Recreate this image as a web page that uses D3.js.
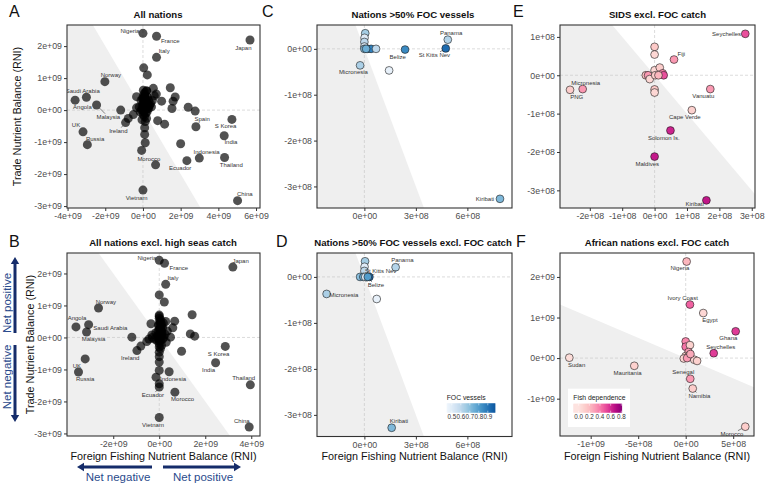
<!DOCTYPE html>
<html><head><meta charset="utf-8">
<script src="https://cdn.jsdelivr.net/npm/d3@7"></script>
<style>body{margin:0;background:#fff;} svg{display:block;font-family:"Liberation Sans",Arial,sans-serif;}</style>
</head><body><svg id="c" width="766" height="483"></svg>
<script>
// ---------------- DATA ----------------
// Panel A: All nations  [name, foreign fishing RNI, trade RNI]
const aLabeled = [
  ["Nigeria",0,2.4e9],["France",0.72e9,2.31e9],["Japan",5.68e9,2.19e9],["Italy",0.72e9,1.65e9],
  ["Norway",-2.02e9,0.89e9],["Saudi Arabia",-3.0e9,0.40e9],["Angola",-3.6e9,0.31e9],["Malaysia",-2.46e9,0.16e9],
  ["UK",-3.18e9,-0.68e9],["Russia",-2.95e9,-1.08e9],["Ireland",-0.92e9,-0.39e9],["Spain",2.81e9,-0.52e9],
  ["S Korea",4.72e9,-0.29e9],["India",4.31e9,-0.80e9],["Indonesia",2.99e9,-1.5e9],["Thailand",4.33e9,-1.48e9],
  ["Ecuador",2.33e9,-1.58e9],["Morocco",0.67e9,-1.71e9],["Vietnam",0,-2.5e9],["China",5.02e9,-2.83e9]
];
const aOther = [
  [0.04e9,1.32e9],[0.23e9,1.1e9],[1.45e9,0.70e9],[0.55e9,0.68e9],[-1.18e9,0],[1.71e9,0.41e9],[1.6e9,0.28e9],
  [0.99e9,0.28e9],[0.71e9,0.5e9],[0.19e9,0.6e9],[-0.34e9,0.42e9],[1.54e9,0.05e9],[2.4e9,0.09e9],[2.77e9,-0.03e9],
  [2.0e9,-1.05e9],[-0.78e9,-0.26e9],[-0.51e9,-0.14e9],[-0.34e9,0.07e9],[0.78e9,-0.33e9],[1.15e9,-0.44e9],
  [0.09e9,-0.55e9],[0.09e9,-0.76e9],[0.12e9,-1.02e9],[-0.07e9,-1.26e9],[0.19e9,-0.26e9],[0.12e9,-0.36e9],
  [0.05e9,0.5e9],[0.1e9,0.45e9],[0,0.4e9],[0.15e9,0.35e9],[0.05e9,0.3e9],[0.1e9,0.25e9],[0.2e9,0.2e9],[0,0.2e9],
  [0.05e9,0.15e9],[0.15e9,0.1e9],[0.25e9,0.05e9],[0.1e9,0.05e9],[0,0],[0.05e9,-0.05e9],[-0.05e9,0.1e9],
  [-0.1e9,0.3e9],[0.3e9,0.3e9],[0.35e9,0.15e9],[0.2e9,0.6e9],[0.12e9,0.55e9],[0.3e9,0.05e9],[-0.15e9,-0.05e9],
  [-0.2e9,0.1e9],[0.02e9,-0.15e9],[0.08e9,-0.2e9],[-0.05e9,-0.3e9],[0.15e9,-0.1e9],[0.4e9,0.2e9],[0.45e9,0.1e9],
  [0.25e9,0.4e9],[0.02e9,0.62e9],[-0.02e9,0.35e9],[0.08e9,0.38e9],[0.18e9,0.28e9],[0.12e9,0.15e9],[0.03e9,0.08e9],
  [-0.08e9,0],[0.22e9,-0.05e9],[0.06e9,0.25e9],[0.1e9,0.42e9],[0.5e9,0.3e9],[0.28e9,0.12e9],[0.6e9,0.45e9]
];
// Panel B: All nations excl. high seas catch
const bLabeled = [
  ["Nigeria",0,2.41e9],["France",0.23e9,2.32e9],["Japan",3.2e9,2.2e9],["Italy",0.28e9,1.66e9],
  ["Norway",-2.64e9,0.92e9],["Angola",-3.62e9,0.33e9],["Saudi Arabia",-3.07e9,0.40e9],["Malaysia",-3.16e9,0.17e9],
  ["UK",-3.22e9,-0.67e9],["Russia",-3.51e9,-1.08e9],["Ireland",-0.97e9,-0.41e9],["S Korea",2.87e9,-0.28e9],
  ["India",2.45e9,-0.79e9],["Thailand",3.96e9,-1.48e9],["Indonesia",0.43e9,-1.07e9],["Ecuador",0,-1.55e9],
  ["Morocco",0.68e9,-1.71e9],["Vietnam",0,-2.5e9],["China",3.91e9,-2.8e9]
];
const bOther = [
  [0,1.33e9],[0.22e9,1.11e9],[1.43e9,0.71e9],[0,0.66e9],[-1.19e9,0.01e9],[0.67e9,0.51e9],[0.59e9,0.30e9],
  [0.28e9,0.5e9],[-0.36e9,0.43e9],[0.49e9,0.01e9],[1.35e9,0.11e9],[1.54e9,0.04e9],[0.97e9,-0.43e9],
  [-0.14e9,-1.24e9],[0,-1.45e9],[-0.8e9,-0.27e9],[-0.54e9,-0.125e9],[0,-0.46e9],[0,-0.6e9],[0,-0.77e9],
  [0,-1.03e9],[-0.32e9,0.08e9],[-0.45e9,-0.05e9],[0.35e9,0.2e9],
  [0,0.6e9],[0.02e9,0.5e9],[0.05e9,0.45e9],[0,0.4e9],[0.08e9,0.35e9],[0.03e9,0.3e9],[0,0.25e9],[0.1e9,0.2e9],
  [0.05e9,0.15e9],[0,0.1e9],[0.12e9,0.05e9],[0.02e9,0.02e9],[-0.02e9,-0.05e9],[0.05e9,-0.1e9],[0,-0.2e9],
  [0.1e9,-0.25e9],[-0.1e9,-0.1e9],[-0.2e9,-0.05e9],[-0.3e9,0],[0.2e9,0],[0.25e9,0.1e9],[0.15e9,0.3e9],
  [0,-0.3e9],[0.05e9,-0.35e9],[-0.05e9,0.2e9],[0.18e9,0.45e9],[0,0.7e9],[0.06e9,0.55e9],[-0.04e9,0.38e9],
  [0.1e9,0.42e9],[0.04e9,0.08e9],[-0.08e9,0.05e9],[0.15e9,-0.05e9],[0.3e9,-0.15e9],[0.07e9,0.25e9],
  [-0.15e9,0.15e9],[0,-0.1e9],[0.12e9,0.12e9]
];
// Panel C: Nations >50% FOC vessels [name, x, y, FOC share]
const cPoints = [
  ["Panama",4.86e8,0.2e8,0.62],["St Kitts Nev",4.74e8,0.01e8,0.93],["Belize",2.37e8,-0.015e8,0.85],
  ["Micronesia",-0.25e8,-0.36e8,0.64],["Kiribati",7.9e8,-3.27e8,0.72],
  ["",1.44e8,-0.47e8,0.47],["",0.05e8,0.34e8,0.65],["",0.01e8,0.24e8,0.5],["",0,0.15e8,0.6],["",0,0.05e8,0.52],
  ["",0,0,0.7],["",0.2e8,0,0.8],["",0.39e8,0,0.88],["",0.68e8,0,0.6],["",0.1e8,0,0.75]
];
// Panel D: Nations >50% FOC vessels excl. FOC catch
const dPoints = [
  ["Panama",1.82e8,0.21e8,0.62],["St Kitts Nev",0.29e8,0,0.93],["Belize",0.13e8,-0.005e8,0.85],
  ["Micronesia",-2.2e8,-0.37e8,0.64],["Kiribati",1.59e8,-3.28e8,0.72],
  ["",0.72e8,-0.48e8,0.47],["",0.04e8,0.34e8,0.65],["",0.01e8,0.22e8,0.5],["",0,0.13e8,0.6],
  ["",-0.25e8,0,0.7],["",-0.06e8,0,0.75],["",0.05e8,0,0.52],["",0.2e8,0,0.8]
];
// Panel E: SIDS excl. FOC catch [name, x, y, fish dependence]
const ePoints = [
  ["Seychelles",2.8e8,1.08e8,0.5],["Fiji",0.6e8,0.41e8,0.3],["Micronesia",-2.22e8,-0.36e8,0.3],
  ["PNG",-2.61e8,-0.38e8,0.1],["Vanuatu",1.72e8,-0.36e8,0.3],["Cape Verde",1.15e8,-0.91e8,0.08],
  ["Solomon Is.",0.49e8,-1.44e8,0.62],["Maldives",0,-2.12e8,0.65],["Kiribati",1.6e8,-3.26e8,0.66],
  ["",0,0.74e8,0.12],["",0,0.54e8,0.05],["",-0.27e8,0,0.15],["",-0.2e8,0,0.3],["",-0.15e8,-0.1e8,0.05],
  ["",0,0.13e8,0.05],["",0.16e8,0.2e8,0.1],["",0.25e8,0.05e8,0.35],["",0.28e8,0,0.5],["",0.02e8,0,0.1],
  ["",0.12e8,0,0.2],["",0,-0.37e8,0.12],["",0,-0.45e8,0.05]
];
// Panel F: African nations excl. FOC catch
const fPoints = [
  ["Nigeria",0.1e8,2.38e9,0.2],["Ivory Coast",0.45e8,1.32e9,0.45],["Egypt",1.85e8,1.11e9,0.05],
  ["Ghana",5.26e8,0.66e9,0.55],["Seychelles",2.95e8,0.12e9,0.55],["Sudan",-1.225e9,0.01e9,0.02],
  ["Mauritania",-5.41e8,-0.19e9,0.08],["Senegal",0.48e8,-0.51e9,0.3],["Namibia",0.74e8,-0.75e9,0.1],
  ["Morocco",6.27e8,-1.69e9,0.1],
  ["",0,0.41e9,0.35],["",0,0.28e9,0.4],["",0.45e8,0.32e9,0.08],["",0.3e8,0.15e9,0.3],["",0,0.05e9,0.1],
  ["",0.3e8,0.05e9,0.15],["",-0.2e8,-0.01e9,0.05],["",0.9e8,-0.04e9,0.05],["",1.2e8,-0.07e9,0.08],
  ["",0.15e8,0,0.3],["",0.5e8,0.1e9,0.25]
];
// tick values
const ticksAx=[-4e9,-2e9,0,2e9,4e9,6e9], ticksAy=[-3e9,-2e9,-1e9,0,1e9,2e9];
const ticksBx=[-2e9,0,2e9,4e9], ticksBy=ticksAy;
const ticksCx=[0,3e8,6e8], ticksCy=[-3e8,-2e8,-1e8,0];
const ticksEx=[-2e8,-1e8,0,1e8,2e8,3e8], ticksEy=[-3e8,-2e8,-1e8,0,1e8];
const ticksFx=[-1e9,-5e8,0,5e8], ticksFy=[-1e9,0,1e9,2e9];
const focLegendTicks=[0.5,0.6,0.7,0.8,0.9], fishLegendTicks=[0,0.2,0.4,0.6,0.8];

// label nudges (pixels, label centre relative to point) – ggrepel placement
const nudgeA={"Nigeria":[-13,-2.3],"France":[13.7,4.3],"Japan":[-6.7,7.7],"Italy":[7.7,-6.3],"Norway":[6,-6.7],
 "Saudi Arabia":[-3.7,-6.3],"Angola":[7.3,6.7],"Malaysia":[11.7,12],"UK":[-7,-7.3],"Russia":[7.7,-5.7],"Ireland":[-7.3,8.3],
 "Spain":[6.3,-8.3],"S Korea":[-6.3,7],"India":[6.7,6.7],"Indonesia":[7.3,-6],"Thailand":[6.7,7.3],"Ecuador":[-6.7,7.7],
 "Morocco":[-6.7,-6],"Vietnam":[-6.3,7.7],"China":[7.3,-6.7]};
const nudgeB={"Nigeria":[-12.3,-2.3],"France":[14.3,4.3],"Japan":[7.7,-6],"Italy":[7.3,-6.3],"Norway":[7.3,-6],
 "Angola":[1,-8.7],"Saudi Arabia":[21.7,3.3],"Malaysia":[7,7.3],"UK":[-8.3,6.7],"Russia":[6.7,7.3],"Ireland":[-6.7,7.3],
 "S Korea":[-6.7,7],"India":[-7,6.7],"Thailand":[-6.7,-6.7],"Indonesia":[4,7.3],"Ecuador":[-6.3,8.3],"Morocco":[7.7,7],
 "Vietnam":[-6.3,7.3],"China":[-7.3,-6]};
const nudgeC={"Panama":[3.3,-6.7],"St Kitts Nev":[-11.3,6.7],"Belize":[-7.3,7],"Micronesia":[-6.7,6.7],"Kiribati":[-15,0.5]};
const nudgeD={"Panama":[6.7,-7.3],"St Kitts Nev":[11.3,-6],"Belize":[9.3,8],"Micronesia":[17.3,1.3],"Kiribati":[7.3,-6.7]};
const nudgeE={"Seychelles":[-18.7,0],"Fiji":[7.3,-5.7],"Micronesia":[3,-6.3],"PNG":[6.7,7.3],"Vanuatu":[-7,7],
 "Cape Verde":[-7,7],"Solomon Is.":[-6.7,7],"Maldives":[-7.3,7],"Kiribati":[-11.7,3.7]};
const nudgeF={"Nigeria":[-6.7,6.7],"Ivory Coast":[-7.3,-6.7],"Egypt":[6.7,6.7],"Ghana":[-7.3,6.7],"Seychelles":[7,-6.3],
 "Sudan":[7.3,7],"Mauritania":[-6.7,6.7],"Senegal":[-7,-6.7],"Namibia":[6.7,7.3],"Morocco":[-13.3,7.3]};

// ---------------- DRAWING ----------------
const svg=d3.select("#c");
const defs=svg.append("defs");
function sci(v){
  if(v===0) return "0e+00";
  const e=Math.floor(Math.log10(Math.abs(v))+1e-9);
  const m=Math.round(v/Math.pow(10,e));
  return m+"e"+(e>=0?"+":"-")+String(Math.abs(e)).padStart(2,"0");
}
function negPoly(xd,yd){
  const r=[[xd[0],yd[0]],[xd[1],yd[0]],[xd[1],yd[1]],[xd[0],yd[1]]], out=[], f=p=>p[0]+p[1];
  for(let i=0;i<4;i++){const a=r[i],b=r[(i+1)%4],fa=f(a),fb=f(b);
    if(fa<=0) out.push(a);
    if((fa<0&&fb>0)||(fa>0&&fb<0)){const t=fa/(fa-fb);out.push([a[0]+t*(b[0]-a[0]),a[1]+t*(b[1]-a[1])]);}
  }
  return out;
}
const focColor=v=>d3.interpolateBlues(0.03+0.82*Math.max(0,Math.min(1,(v-0.44)/(0.98-0.44))));
const fishColor=v=>d3.interpolateRdPu(0.12+0.75*Math.max(0,Math.min(1,v/0.85)));

function panel(cfg){
  const [x0,x1,y0,y1]=cfg.box;
  const x=d3.scaleLinear().domain(cfg.xDom).range([x0,x1]);
  const y=d3.scaleLinear().domain(cfg.yDom).range([y1,y0]);
  const id="cl"+cfg.id;
  defs.append("clipPath").attr("id",id).append("rect").attr("x",x0).attr("y",y0).attr("width",x1-x0).attr("height",y1-y0);
  const g=svg.append("g");
  const inner=g.append("g").attr("clip-path",`url(#${id})`);
  inner.append("rect").attr("x",x0).attr("y",y0).attr("width",x1-x0).attr("height",y1-y0).attr("fill","#fff");
  inner.append("path").datum(negPoly(cfg.xDom,cfg.yDom))
    .attr("d",d=>"M"+d.map(p=>x(p[0])+","+y(p[1])).join("L")+"Z").attr("fill","#efefef");
  inner.append("line").attr("x1",x(0)).attr("x2",x(0)).attr("y1",y0).attr("y2",y1)
    .attr("stroke","#c4c4c4").attr("stroke-width",0.6).attr("stroke-dasharray","3,2");
  inner.append("line").attr("x1",x0).attr("x2",x1).attr("y1",y(0)).attr("y2",y(0))
    .attr("stroke","#c4c4c4").attr("stroke-width",0.6).attr("stroke-dasharray","3,2");
  const pts=cfg.points;
  if(cfg.color){
    inner.selectAll("circle.p").data(pts).join("circle").attr("cx",d=>x(d.x)).attr("cy",d=>y(d.y)).attr("r",3.9)
      .attr("fill",d=>cfg.color(d.v)).attr("stroke","#1a1a1a").attr("stroke-width",0.6);
  } else {
    inner.selectAll("circle.p").data(pts).join("circle").attr("cx",d=>x(d.x)).attr("cy",d=>y(d.y)).attr("r",4.5)
      .attr("fill","#000").attr("fill-opacity",0.68);
  }
  // labels
  const lab=pts.filter(d=>d.name && cfg.nudge[d.name]);
  lab.forEach(d=>{
    const px=x(d.x),py=y(d.y),[dx,dy]=cfg.nudge[d.name];
    const t=inner.append("text").attr("x",px+dx).attr("y",py+dy).attr("dy","0.35em").attr("text-anchor","middle")
      .attr("font-size",6).attr("fill","#333").text(d.name);
    const w=t.node().getComputedTextLength(), h=5;
    const len=Math.hypot(dx,dy); const r=cfg.color?3.9:4.5;
    const s=Math.min(Math.abs(dx)>0?(w/2+0.8)/Math.abs(dx):1e9,Math.abs(dy)>0?(h/2+0.8)/Math.abs(dy):1e9);
    const a=r/len, b=1-s;
    if((b-a)*len>1.5){
      inner.insert("line","text").attr("x1",px+dx*a).attr("y1",py+dy*a).attr("x2",px+dx*b).attr("y2",py+dy*b)
        .attr("stroke","#111").attr("stroke-width",0.5);
    }
  });
  g.append("rect").attr("x",x0).attr("y",y0).attr("width",x1-x0).attr("height",y1-y0)
    .attr("fill","none").attr("stroke","#333").attr("stroke-width",1.1);
  const ax=g.append("g").attr("transform",`translate(0,${y1})`).call(d3.axisBottom(x).tickValues(cfg.xTicks).tickFormat(sci).tickSize(3).tickPadding(2));
  const ay=g.append("g").attr("transform",`translate(${x0},0)`).call(d3.axisLeft(y).tickValues(cfg.yTicks).tickFormat(sci).tickSize(3).tickPadding(2));
  [ax,ay].forEach(a=>{a.select(".domain").remove();a.selectAll("line").attr("stroke","#333");
    a.selectAll("text").attr("fill","#4d4d4d").attr("font-size",8.8).attr("font-family","Liberation Sans, Arial, sans-serif");});
  svg.append("text").attr("x",cfg.titleX).attr("y",cfg.titleY).attr("text-anchor","middle").attr("font-weight","bold")
    .attr("font-size",9.6).attr("fill","#111").text(cfg.title);
  svg.append("text").attr("x",cfg.letter[1]).attr("y",cfg.letter[2]).attr("font-size",16).attr("fill","#111").text(cfg.letter[0]);
  return {x,y};
}
const fromLabeled=(arr,oth)=>arr.map(d=>({name:d[0],x:d[1],y:d[2]})).concat(oth.map(d=>({name:"",x:d[0],y:d[1]})));
const fromCol=arr=>arr.map(d=>({name:d[0],x:d[1],y:d[2],v:d[3]}));

panel({id:"A",box:[67,260,25,208],xDom:[-4.03e9,6.21e9],yDom:[-3.06e9,2.66e9],xTicks:ticksAx,yTicks:ticksAy,
  points:fromLabeled(aLabeled,aOther),nudge:nudgeA,title:"All nations",titleX:158,titleY:18,letter:["A",9,17]});
panel({id:"B",box:[67,260,253,436],xDom:[-4.01e9,4.38e9],yDom:[-3.08e9,2.64e9],xTicks:ticksBx,yTicks:ticksBy,
  points:fromLabeled(bLabeled,bOther),nudge:nudgeB,title:"All nations excl. high seas catch",titleX:163,titleY:246,letter:["B",9,247]});
panel({id:"C",box:[317,512,25,208],xDom:[-2.76e8,8.6e8],yDom:[-3.47e8,0.52e8],xTicks:ticksCx,yTicks:ticksCy,
  points:fromCol(cPoints),nudge:nudgeC,color:focColor,title:"Nations >50% FOC vessels",titleX:413,titleY:18,letter:["C",262,17]});
panel({id:"D",box:[317,512,253,436.5],xDom:[-2.76e8,8.6e8],yDom:[-3.47e8,0.52e8],xTicks:ticksCx,yTicks:ticksCy,
  points:fromCol(dPoints),nudge:nudgeD,color:focColor,title:"Nations >50% FOC vessels excl. FOC catch",titleX:413,titleY:246,letter:["D",276,247]});
panel({id:"E",box:[560,755,25,208],xDom:[-2.92e8,3.1e8],yDom:[-3.46e8,1.31e8],xTicks:ticksEx,yTicks:ticksEy,
  points:fromCol(ePoints),nudge:nudgeE,color:fishColor,title:"SIDS excl. FOC catch",titleX:657.5,titleY:18,letter:["E",513,17]});
panel({id:"F",box:[560,754,253,436],xDom:[-1.323e9,0.719e9],yDom:[-1.92e9,2.59e9],xTicks:ticksFx,yTicks:ticksFy,
  points:fromCol(fPoints),nudge:nudgeF,color:fishColor,title:"African nations excl. FOC catch",titleX:657,titleY:246,letter:["F",516,247]});

// legends
function colorbar(title,ticks,color,bx0,bx1,by0,by1,t0,t1,titleY){
  const s=d3.scaleLinear().domain([ticks[0],ticks[ticks.length-1]]).range([t0,t1]);
  const g=svg.append("g");
  g.append("text").attr("x",bx0).attr("y",titleY).attr("font-size",6.8).attr("fill","#222").text(title);
  const n=48, w=(bx1-bx0)/n;
  for(let i=0;i<n;i++){g.append("rect").attr("x",bx0+i*w).attr("y",by0).attr("width",w+0.4).attr("height",by1-by0)
    .attr("fill",color(s.invert(bx0+(i+0.5)*w)));}
  ticks.forEach(v=>{
    g.append("line").attr("x1",s(v)).attr("x2",s(v)).attr("y1",by0).attr("y2",by0+2).attr("stroke","#fff").attr("stroke-width",0.5);
    g.append("line").attr("x1",s(v)).attr("x2",s(v)).attr("y1",by1-2).attr("y2",by1).attr("stroke","#fff").attr("stroke-width",0.5);
    g.append("text").attr("x",s(v)).attr("y",by1+6.5).attr("text-anchor","middle").attr("font-size",6.3).attr("fill","#333").text(v.toFixed(1));
  });
}
colorbar("FOC vessels",focLegendTicks,focColor,446.7,495,403.3,412.7,451.8,487.8,399.5);
svg.append("rect").attr("x",568).attr("y",388.7).attr("width",62).attr("height",38.3).attr("fill","#fff");
colorbar("Fish dependence",fishLegendTicks,fishColor,573.3,621.7,403.7,412.7,578.7,621.3,399.5);

// axis titles
svg.append("text").attr("transform","translate(21,116.5) rotate(-90)").attr("text-anchor","middle").attr("font-size",10.8).attr("fill","#111").text("Trade Nutrient Balance (RNI)");
svg.append("text").attr("transform","translate(34,344.5) rotate(-90)").attr("text-anchor","middle").attr("font-size",10.8).attr("fill","#111").text("Trade Nutrient Balance (RNI)");
["163.5","414.5","657"].forEach(cx=>svg.append("text").attr("x",+cx).attr("y",460).attr("text-anchor","middle").attr("font-size",10.8).attr("fill","#111").text("Foreign Fishing Nutrient Balance (RNI)"));

// direction arrows
const navy="#152c6a", blueTxt="#2a4a8c";
function arrow(x1,y1,x2,y2){
  const ang=Math.atan2(y2-y1,x2-x1), L=7, W=4.2;
  const bx=x2-L*Math.cos(ang), by=y2-L*Math.sin(ang);
  svg.append("line").attr("x1",x1).attr("y1",y1).attr("x2",bx).attr("y2",by).attr("stroke",navy).attr("stroke-width",3);
  const px=-Math.sin(ang), py=Math.cos(ang);
  svg.append("path").attr("d",`M${x2},${y2}L${bx+W*px},${by+W*py}L${bx-W*px},${by-W*py}Z`).attr("fill",navy);
}
arrow(15,333,15,257);
arrow(15,345,15,422);
arrow(152,467,77,467);
arrow(163,467,241,467);
svg.append("text").attr("transform","translate(11,303) rotate(-90)").attr("text-anchor","middle").attr("font-size",11.5).attr("fill",blueTxt).text("Net positive");
svg.append("text").attr("transform","translate(11,377) rotate(-90)").attr("text-anchor","middle").attr("font-size",11.5).attr("fill",blueTxt).text("Net negative");
svg.append("text").attr("x",118).attr("y",481).attr("text-anchor","middle").attr("font-size",11.5).attr("fill",blueTxt).text("Net negative");
svg.append("text").attr("x",203).attr("y",481).attr("text-anchor","middle").attr("font-size",11.5).attr("fill",blueTxt).text("Net positive");
</script></body></html>
